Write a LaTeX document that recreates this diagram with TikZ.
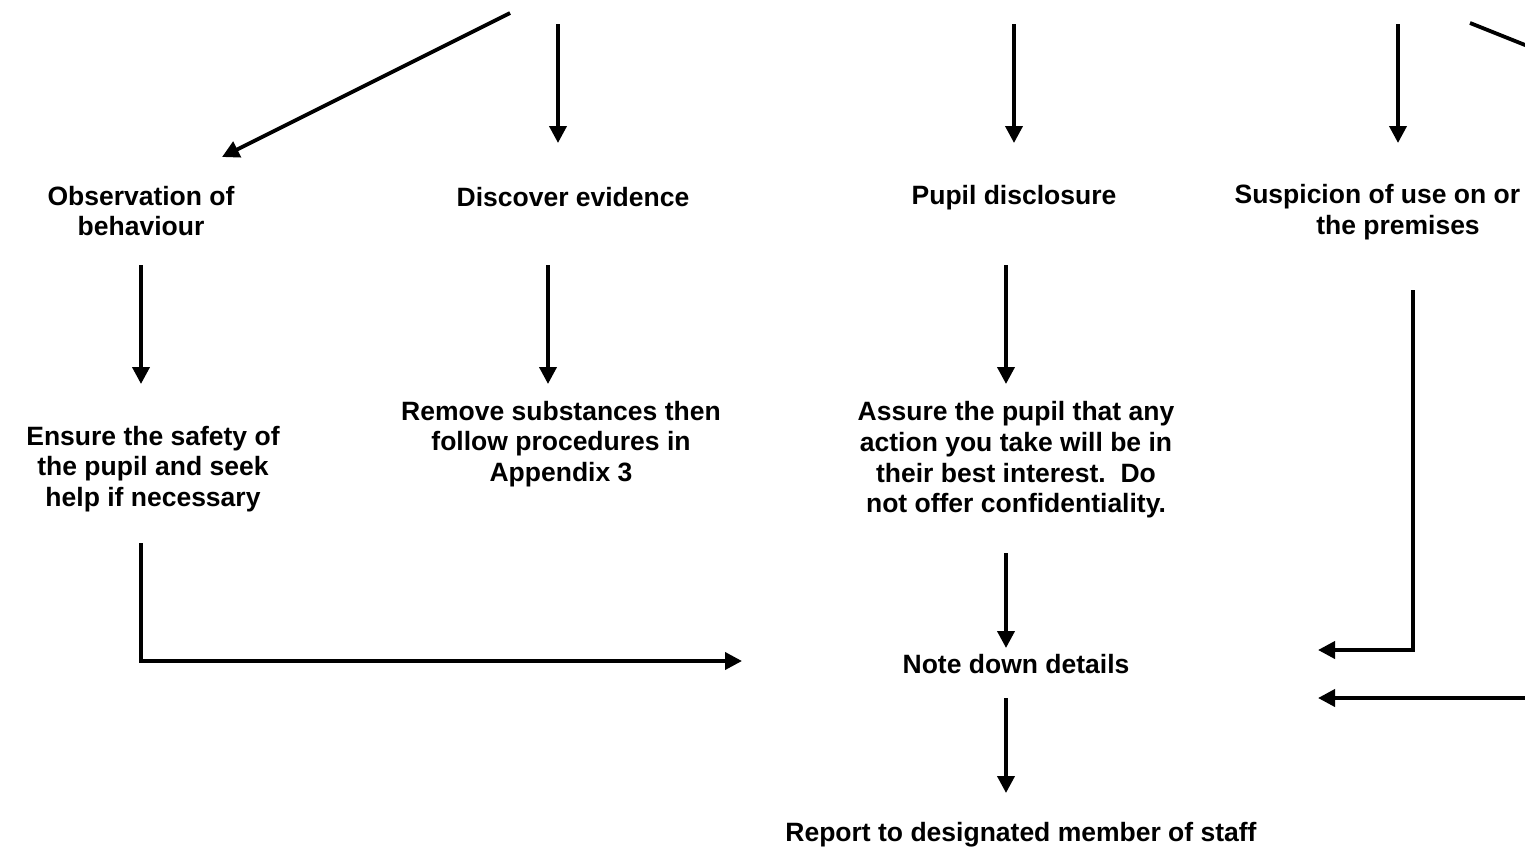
\documentclass[tikz,border=0pt]{standalone}
\usepackage{fontspec}
\setmainfont{Liberation Sans}
\usetikzlibrary{arrows.meta}
\tikzset{
  lbl/.style={inner sep=0pt, align=center, font=\bfseries\fontsize{26.5}{30.7}\selectfont},
  conn/.style={line width=3.8pt, -{Triangle[length=17pt,width=17pt]}},
  plain/.style={line width=3.8pt}
}
\begin{document}
\begin{tikzpicture}[x=1pt,y=-1pt]
\useasboundingbox (0,0) rectangle (1525,854);
% text nodes
\node[lbl] (obs) at (141,211) {Observation of\\behaviour};
\node[lbl] (disc) at (573,197) {Discover evidence};
\node[lbl] (pupil) at (1014,198) {Pupil disclosure};
\node[lbl] (susp) at (1398,212) {Suspicion of use on or\phantom{ off}\\the premises};
\node[lbl] (ensure) at (153,469) {Ensure the safety of\\the pupil and seek\\help if necessary};
\node[lbl] (remove) at (561,444) {Remove substances then\\follow procedures in\\Appendix 3};
\node[lbl] (assure) at (1016,460) {Assure the pupil that any\\action you take will be in\\their best interest.\ \ Do\\not offer confidentiality.};
\node[lbl] (note) at (1016,664) {Note down details};
\node[lbl] (report) at (1021,835) {Report to designated member of staff};
% coordinates
\coordinate (a1s) at (510,13);   \coordinate (a1e) at (222,157);
\coordinate (a2s) at (558,24);   \coordinate (a2e) at (558,143);
\coordinate (a3s) at (1014,24);  \coordinate (a3e) at (1014,143);
\coordinate (a4s) at (1398,24);  \coordinate (a4e) at (1398,143);
\coordinate (a5s) at (1470,23);  \coordinate (a5e) at (1530,47);
\coordinate (b1s) at (141,265);  \coordinate (b1e) at (141,384);
\coordinate (b2s) at (548,265);  \coordinate (b2e) at (548,384);
\coordinate (b3s) at (1006,265); \coordinate (b3e) at (1006,384);
\coordinate (c1s) at (1413,290); \coordinate (c1m) at (1413,650); \coordinate (c1e) at (1318,650);
\coordinate (d1s) at (141,543);  \coordinate (d1m) at (141,661);  \coordinate (d1e) at (742,661);
\coordinate (e1s) at (1006,553); \coordinate (e1e) at (1006,648);
\coordinate (f1s) at (1530,698); \coordinate (f1e) at (1318,698);
\coordinate (g1s) at (1006,698); \coordinate (g1e) at (1006,793);
% connectors
\draw[conn] (a1s) -- (a1e);
\draw[conn] (a2s) -- (a2e);
\draw[conn] (a3s) -- (a3e);
\draw[conn] (a4s) -- (a4e);
\draw[plain] (a5s) -- (a5e);
\draw[conn] (b1s) -- (b1e);
\draw[conn] (b2s) -- (b2e);
\draw[conn] (b3s) -- (b3e);
\draw[conn] (c1s) -- (c1m) -- (c1e);
\draw[conn] (d1s) -- (d1m) -- (d1e);
\draw[conn] (e1s) -- (e1e);
\draw[conn] (f1s) -- (f1e);
\draw[conn] (g1s) -- (g1e);
\end{tikzpicture}
\end{document}
